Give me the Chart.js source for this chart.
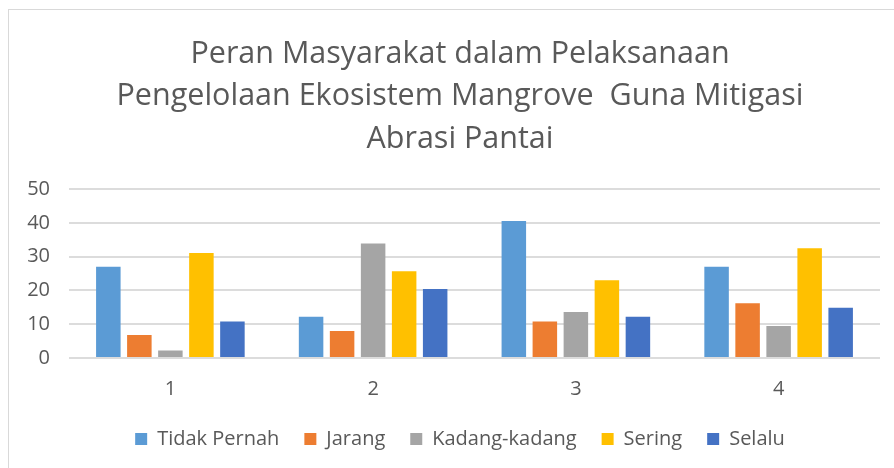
<!DOCTYPE html>
<html>
<head>
<meta charset="utf-8">
<script src="https://cdn.jsdelivr.net/npm/chart.js@4"></script>
<style>
  html, body { margin: 0; padding: 0; width: 894px; height: 468px; overflow: hidden; background: #fff; }
  #frame { position: absolute; left: 8px; top: 9px; width: 920px; height: 480px; border: 1px solid #d9d9d9; }
  #wrap { position: absolute; left: 0; top: 0; width: 894px; height: 468px; }
</style>
</head>
<body>
<div id="frame"></div>
<div id="wrap"><canvas id="grafik"></canvas></div>
<script>
// Data dari grafik
const kategori = ['1', '2', '3', '4'];
const tidakPernah = [27, 12.2, 40.6, 27];
const jarang = [6.8, 8, 10.8, 16.2];
const kadangKadang = [2.2, 33.9, 13.6, 9.5];
const sering = [31.1, 25.7, 23, 32.5];
const selalu = [10.8, 20.4, 12.2, 14.9];
const judul = ['Peran Masyarakat dalam Pelaksanaan', 'Pengelolaan Ekosistem Mangrove  Guna Mitigasi', 'Abrasi Pantai'];

const abu = '#595959';
const huruf = 'Open Sans';

function seri(label, data, warna) {
    return { label: label, data: data, backgroundColor: warna, categoryPercentage: 0.765, barPercentage: 0.79 };
}

new Chart(document.getElementById('grafik'), {
    type: 'bar',
    data: {
        labels: kategori,
        datasets: [
            seri('Tidak Pernah', tidakPernah, '#5B9BD5'),
            seri('Jarang', jarang, '#ED7D31'),
            seri('Kadang-kadang', kadangKadang, '#A5A5A5'),
            seri('Sering', sering, '#FFC000'),
            seri('Selalu', selalu, '#4472C4')
        ]
    },
    options: {
        responsive: true,
        maintainAspectRatio: false,
        animation: false,
        layout: { padding: { left: 27, right: 1, top: 0, bottom: 9 } },
        plugins: {
            title: {
                display: true,
                text: judul,
                color: abu,
                font: { family: huruf, size: 30.5, weight: 'normal', lineHeight: 1.39 },
                padding: { top: 33, bottom: 29 }
            },
            legend: {
                position: 'bottom',
                labels: {
                    color: abu,
                    font: { family: huruf, size: 20 },
                    boxWidth: 12,
                    boxHeight: 12,
                    padding: 25
                }
            },
            tooltip: { enabled: false }
        },
        scales: {
            x: {
                afterFit: function (scale) { scale.height = 46; },
                grid: { display: false, drawTicks: false },
                border: { display: false },
                ticks: { color: abu, font: { family: huruf, size: 20 }, padding: 19 }
            },
            y: {
                min: 0,
                max: 50,
                afterFit: function (scale) { scale.width = 42; },
                grid: { color: '#dcdcdc', lineWidth: 2, drawTicks: false },
                border: { display: false },
                ticks: { stepSize: 10, color: abu, font: { family: huruf, size: 20 }, padding: 19 }
            },
            // sumbu kosong di kanan supaya judul tetap di tengah bingkai
            kanan: {
                position: 'right',
                afterFit: function (scale) { scale.width = 13; },
                grid: { display: false, drawTicks: false },
                border: { display: false },
                ticks: { display: false }
            }
        }
    }
});
</script>
</body>
</html>
